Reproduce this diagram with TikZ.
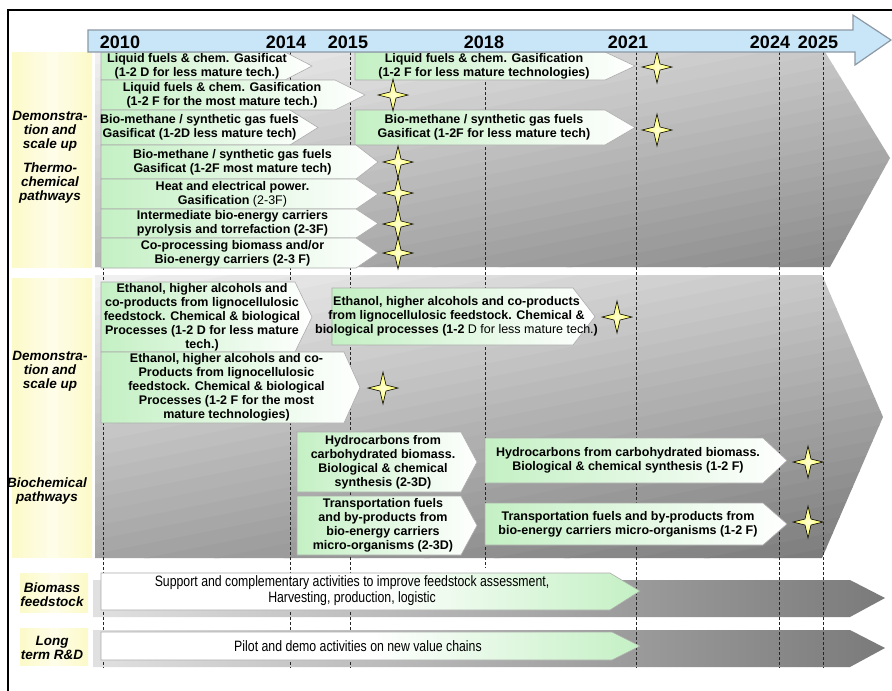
\documentclass[tikz,border=0pt]{standalone}
\usepackage{fontspec}
\setmainfont{Liberation Sans}
\newfontfamily\narrowfont[FakeStretch=0.82]{Liberation Sans}

\definecolor{leafgreen}{RGB}{196,240,196}
\definecolor{skyblue}{RGB}{200,230,248}
\definecolor{barrim}{RGB}{140,152,164}
\definecolor{labelcream}{RGB}{252,250,200}

\tikzset{
  greenbox/.style={left color=leafgreen, right color=white, middle color=leafgreen!50, draw=gray!65, line width=0.6pt},
  feedbox/.style={left color=white, right color=leafgreen, middle color=white, draw=gray!65, line width=0.6pt},
  boxtext/.style={align=center, inner sep=0pt, font=\fontsize{12.5}{14}\selectfont\bfseries},
  widetext/.style={align=center, inner sep=0pt, font=\narrowfont\fontsize{15}{16}\selectfont},
  sidelabel/.style={align=center, inner sep=0pt, font=\fontsize{13.5}{14}\selectfont\bfseries\itshape},
  yearlabel/.style={inner sep=0pt, font=\fontsize{18}{18}\selectfont\bfseries},
  yearline/.style={dash pattern=on 3pt off 2pt, line width=0.6pt, black!85},
  sparkle/.pic={
    \shadedraw[inner color=yellow!15, outer color=yellow!75, draw=black, line width=0.6pt]
      (0,-16) -- (3,-3) -- (15,0) -- (3,3) -- (0,16) -- (-3,3) -- (-15,0) -- (-3,-3) -- cycle;
  }
}

% chevron box: name, x1, y1, x2, y2, tip depth, text
\newcommand{\chevbox}[7]{%
  \shadedraw[greenbox] (#2,#3) -- ({#4-#6},#3) -- (#4,{(#3+#5)/2}) -- ({#4-#6},#5) -- (#2,#5) -- cycle;
  \node[boxtext] (#1) at ({(#2+#4-#6)/2+4},{(#3+#5)/2}) {#7};
}

\begin{document}
\begin{tikzpicture}[x=1pt, y=-1pt]
  \useasboundingbox (0,0) rectangle (892,691);
  \fill[white] (0,0) rectangle (892,691);

  % Thermo-chemical panel, slanted grey bands
  \begin{scope}
    \clip (95,52) -- (825,52) -- (890,158) -- (830,267) -- (95,267) -- cycle;
    \foreach \k [evaluate=\k as \tone using 6+1.5*\k] in {0,...,31}
      \fill[black!\tone] (90,{52+13.5*\k}) -- (900,{52+13.5*\k-162}) -- (900,{52+13.5*(\k+1)-161}) -- (90,{52+13.5*(\k+1)+1}) -- cycle;
  \end{scope}

  % Biochemical panel
  \begin{scope}
    \clip (95,275) -- (822,275) -- (883,417) -- (822,558) -- (95,558) -- cycle;
    \foreach \k [evaluate=\k as \tone using 6+1.5*\k] in {0,...,33}
      \fill[black!\tone] (90,{275+14*\k}) -- (900,{275+14*\k-162}) -- (900,{275+14*(\k+1)-161}) -- (90,{275+14*(\k+1)+1}) -- cycle;
  \end{scope}

  % Frame
  \draw[line width=2.5pt] (8,691) -- (8,10) -- (892,10);

  % Label columns
  \shade[left color=labelcream, right color=labelcream, middle color=labelcream!40] (12,52) rectangle (92,267);
  \shade[left color=labelcream, right color=labelcream, middle color=labelcream!40] (12,278) rectangle (92,557);
  \shade[left color=labelcream, right color=labelcream, middle color=labelcream!40] (20,573) rectangle (88,612);
  \shade[left color=labelcream, right color=labelcream, middle color=labelcream!40] (20,628) rectangle (88,665);

  % Feedstock and R&D bars
  \shade[left color=black!12, right color=black!52] (93,580) -- (850,580) -- (885,598) -- (850,617) -- (93,617) -- cycle;
  \shade[left color=black!12, right color=black!52] (93,630) -- (850,630) -- (885,648) -- (850,667) -- (93,667) -- cycle;

  % Year lines
  \foreach \xpos in {103,290,350,636,779,823}
    \draw[yearline] (\xpos,52) -- (\xpos,668);
  \draw[yearline] (485,52) -- (485,568);

  % Thermo-chemical pathways
  \chevbox{liqA}{101}{52}{312}{80}{27}{Liquid fuels \& chem. Gasificat\\(1-2 D for less mature tech.)}
  \chevbox{liqB}{355}{52}{635}{80}{30}{Liquid fuels \& chem. Gasification\\(1-2 F for less mature technologies)}
  \chevbox{liqC}{101}{80}{365}{110}{30}{Liquid fuels \& chem. Gasification\\(1-2 F for the most mature tech.)}
  \chevbox{gasA}{101}{110}{318}{145}{28}{Bio-methane / synthetic gas fuels\\Gasificat (1-2D less mature tech)}
  \chevbox{gasB}{355}{110}{635}{145}{30}{Bio-methane / synthetic gas fuels\\Gasificat (1-2F for less mature tech)}
  \chevbox{gasC}{101}{145}{378}{179}{22}{Bio-methane / synthetic gas fuels\\Gasificat (1-2F most mature tech)}
  \chevbox{heat}{101}{179}{378}{209}{22}{Heat and electrical power.\\Gasification {\mdseries (2-3F)}}
  \chevbox{pyro}{101}{209}{378}{238}{22}{Intermediate bio-energy carriers\\pyrolysis and torrefaction (2-3F)}
  \chevbox{copro}{101}{238}{378}{268}{22}{Co-processing biomass and/or\\Bio-energy carriers (2-3 F)}

  % Biochemical pathways
  \chevbox{ethA}{101}{282}{312}{352}{17}{Ethanol, higher alcohols and\\co-products from lignocellulosic\\feedstock. Chemical \& biological\\Processes (1-2 D for less mature\\tech.)}
  \chevbox{ethB}{332}{288}{595}{345}{22}{Ethanol, higher alcohols and co-products\\from lignocellulosic feedstock. Chemical \&\\biological processes (1-2 {\mdseries D for less mature tech.})}
  \chevbox{ethC}{101}{352}{360}{423}{16}{Ethanol, higher alcohols and co-\\Products from lignocellulosic\\feedstock. Chemical \& biological\\Processes (1-2 F for the most\\mature technologies)}
  \chevbox{hydA}{297}{432}{477}{492}{16}{Hydrocarbons from\\carbohydrated biomass.\\Biological \& chemical\\synthesis (2-3D)}
  \chevbox{hydB}{485}{438}{787}{483}{24}{Hydrocarbons from carbohydrated biomass.\\Biological \& chemical synthesis (1-2 F)}
  \chevbox{trnA}{297}{496}{477}{555}{16}{Transportation fuels\\and by-products from\\bio-energy carriers\\micro-organisms (2-3D)}
  \chevbox{trnB}{485}{503}{787}{545}{24}{Transportation fuels and by-products from\\bio-energy carriers micro-organisms (1-2 F)}

  % Feedstock and long term activities
  \shadedraw[feedbox] (101,573) -- (610,573) -- (640,591) -- (610,610) -- (101,610) -- cycle;
  \node[widetext] (feed) at (352,591) {Support and complementary activities to improve feedstock assessment,\\Harvesting, production, logistic};
  \shadedraw[feedbox] (101,632) -- (612,632) -- (640,646) -- (612,660) -- (101,660) -- cycle;
  \node[widetext] (pilot) at (358,646) {Pilot and demo activities on new value chains};

  % Milestones
  \pic at (657,67) {sparkle};
  \pic at (393,95) {sparkle};
  \pic at (657,130) {sparkle};
  \pic at (398,162) {sparkle};
  \pic at (398,193) {sparkle};
  \pic at (398,224) {sparkle};
  \pic at (398,253) {sparkle};
  \pic at (617,317) {sparkle};
  \pic at (383,388) {sparkle};
  \pic at (808,462) {sparkle};
  \pic at (808,522) {sparkle};

  % Time axis
  \draw[barrim, fill=skyblue, line width=1.2pt, line join=miter]
    (88,30) -- (853,30) -- (853,15) -- (891,40) -- (855,65) -- (855,52) -- (88,52) -- cycle;
  \node[yearlabel] (y2010) at (120,42) {2010};
  \node[yearlabel] (y2014) at (286,42) {2014};
  \node[yearlabel] (y2015) at (348,42) {2015};
  \node[yearlabel] (y2018) at (484,42) {2018};
  \node[yearlabel] (y2021) at (628,42) {2021};
  \node[yearlabel] (y2024) at (770,42) {2024};
  \node[yearlabel] (y2025) at (818,42) {2025};

  % Side labels
  \node[sidelabel] (demoA) at (50,131) {Demonstra-\\tion and\\scale up};
  \node[sidelabel] (thermo) at (50,183) {Thermo-\\chemical\\pathways};
  \node[sidelabel] (demoB) at (50,371) {Demonstra-\\tion and\\scale up};
  \node[sidelabel] (bioch) at (47,491) {Biochemical\\pathways};
  \node[sidelabel] (feedlab) at (52,595) {Biomass\\feedstock};
  \node[sidelabel] (rdlab) at (52,648) {Long\\term R\&D};
\end{tikzpicture}
\end{document}
